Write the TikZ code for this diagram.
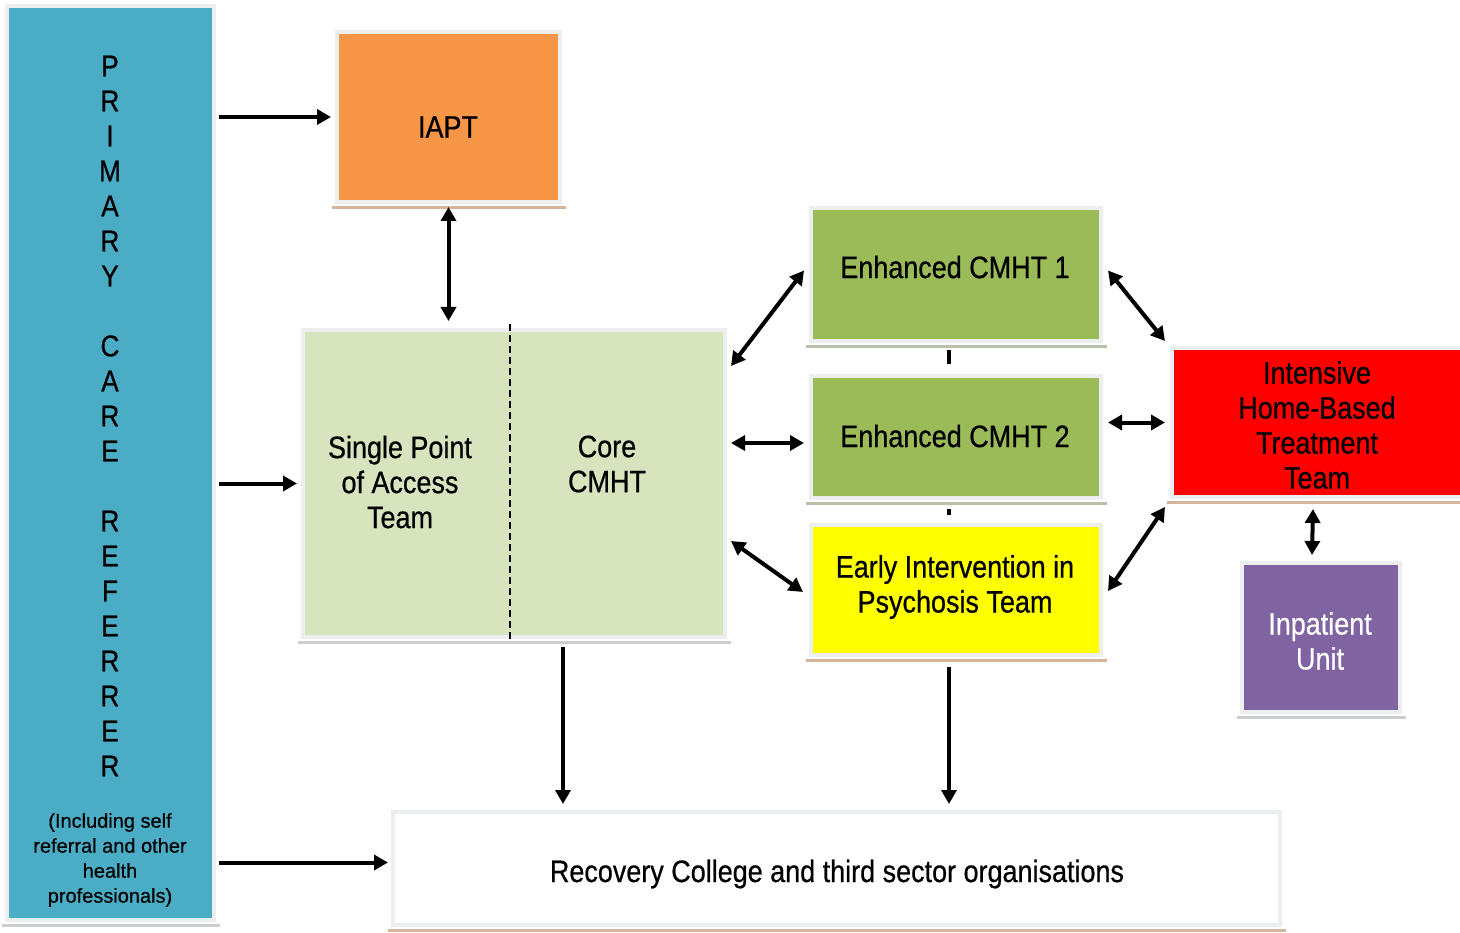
\documentclass[tikz,border=0pt]{standalone}
\usepackage{fontspec}
\setmainfont{Liberation Sans}[FakeStretch=0.87,FakeBold=0.6]
\newfontfamily\smallfont{Liberation Sans}[FakeBold=0.5]
\usetikzlibrary{arrows.meta,calc}
\definecolor{cblue}{HTML}{4BACC6}
\definecolor{corange}{HTML}{F79646}
\definecolor{clgreen}{HTML}{D7E4BD}
\definecolor{cgreen}{HTML}{9BBB59}
\definecolor{cyellow}{HTML}{FFFF00}
\definecolor{cred}{HTML}{FF0000}
\definecolor{cpurple}{HTML}{8064A2}
\definecolor{cframe}{HTML}{EDEEEF}
\definecolor{cbrown}{HTML}{D4B49A}
\definecolor{cgshadow}{HTML}{B9C2A8}
\tikzset{
  box/.style={rectangle, draw=cframe, line width=4pt, inner sep=0pt, align=center,
    font=\fontsize{31}{35}\selectfont},
  arr/.style={line width=4pt, -{Triangle[length=14pt,width=15pt]}},
  darr/.style={line width=4pt, {Triangle[length=14pt,width=15pt]}-{Triangle[length=14pt,width=15pt]}},
  tick/.style={line width=4pt},
  shadowline/.style={line width=3.5pt},
}
\begin{document}
\begin{tikzpicture}[x=1pt,y=-1pt]
\useasboundingbox (0,0) rectangle (1460,933);
% nodes
\node[box, fill=cblue, minimum width=207pt, minimum height=914pt] (blue) at (110.5,463) {};
\node[align=center, font=\fontsize{30}{35}\selectfont] (primary) at (110,416)
  {P\\R\\I\\M\\A\\R\\Y\\~\\C\\A\\R\\E\\~\\R\\E\\F\\E\\R\\R\\E\\R};
\node[align=center, font=\smallfont\fontsize{20}{25}\selectfont] (incl) at (110,860)
  {(Including self\\referral and other\\health\\professionals)};
\node[box, fill=corange, minimum width=223pt, minimum height=170pt] (iapt) at (448.5,117) {};
\node[font=\fontsize{31}{35}\selectfont] (iaptt) at (448,127) {IAPT};
\node[box, fill=clgreen, minimum width=422pt, minimum height=307pt] (spa) at (514,483.5) {};
\node[align=center, font=\fontsize{31}{35}\selectfont] (spat) at (400,482) {Single Point\\of Access\\Team};
\node[align=center, font=\fontsize{31}{35}\selectfont] (coret) at (607,464) {Core\\CMHT};
\node[box, fill=cgreen, minimum width=290pt, minimum height=133pt] (c1) at (956,274.5) {};
\node[font=\fontsize{31}{35}\selectfont] (c1t) at (955,267) {Enhanced CMHT 1};
\node[box, fill=cgreen, minimum width=290pt, minimum height=122pt] (c2) at (956,437) {};
\node[font=\fontsize{31}{35}\selectfont] (c2t) at (955,436) {Enhanced CMHT 2};
\node[box, fill=cyellow, minimum width=290pt, minimum height=130pt] (eip) at (956,590) {};
\node[align=center, font=\fontsize{31}{35}\selectfont] (eipt) at (955,587) {Early Intervention in\\Psychosis Team};
\node[box, fill=cred, minimum width=292pt, minimum height=149pt] (ih) at (1318,422.5) {};
\node[align=center, font=\fontsize{31}{35}\selectfont] (iht) at (1317,425) {Intensive\\Home-Based\\Treatment\\Team};
\node[box, fill=cpurple, minimum width=158pt, minimum height=149pt] (inp) at (1321,637.5) {};
\node[align=center, text=white, font=\fontsize{31}{35}\selectfont] (inpt) at (1320,641) {Inpatient\\Unit};
\node[box, fill=white, minimum width=887pt, minimum height=113pt] (rec) at (836.5,868.5) {};
\node[font=\fontsize{31}{35}\selectfont] (rect) at (837,874) {Recovery College and third sector organisations};
% bottom shadows
\draw[shadowline, cframe!70!gray] ($(blue.south west)+(-3,3.5)$) -- ($(blue.south east)+(4,3.5)$);
\draw[shadowline, cbrown] ($(iapt.south west)+(-3,3.5)$) -- ($(iapt.south east)+(4,3.5)$);
\draw[shadowline, cframe!70!gray] ($(spa.south west)+(-3,3.5)$) -- ($(spa.south east)+(4,3.5)$);
\draw[shadowline, cgshadow] ($(c1.south west)+(-3,3.5)$) -- ($(c1.south east)+(4,3.5)$);
\draw[shadowline, cgshadow] ($(c2.south west)+(-3,3.5)$) -- ($(c2.south east)+(4,3.5)$);
\draw[shadowline, cbrown] ($(eip.south west)+(-3,3.5)$) -- ($(eip.south east)+(4,3.5)$);
\draw[shadowline, cbrown] ($(ih.south west)+(-3,3.5)$) -- ($(ih.south east)+(4,3.5)$);
\draw[shadowline, cframe!70!gray] ($(inp.south west)+(-3,3.5)$) -- ($(inp.south east)+(4,3.5)$);
\draw[shadowline, cbrown] ($(rec.south west)+(-3,3.5)$) -- ($(rec.south east)+(4,3.5)$);
% dashed divider
\coordinate (dtop) at ($(spa.north west)+(209,-4)$);
\coordinate (dbot) at ($(spa.south west)+(209,3)$);
\draw[line width=1.5pt, dash pattern=on 7pt off 4pt] (dtop) -- (dbot);
% connectors
\draw[arr] ([xshift=3pt]blue.east |- iapt.west) -- ([xshift=-4pt]iapt.west);
\draw[arr] ([xshift=3pt]blue.east |- spa.west) -- ([xshift=-4pt]spa.west);
\coordinate (recin) at ($(rec.west)+(-3,-6)$);
\draw[arr] ([xshift=3pt]blue.east |- recin) -- (recin);
\draw[darr] ($(iapt.south)+(0,3)$) -- ($(iapt.south |- spa.north)+(0,-7)$);
\draw[darr] ($(spa.north east)+(4,38)$) -- ($(c1.west)+(-5,-4)$);
\coordinate (c2in) at ($(c2.west)+(-5,6)$);
\draw[darr] ($(spa.east |- c2in)+(4,0)$) -- (c2in);
\draw[darr] ($(spa.north east)+(4,213)$) -- ($(eip.west)+(-6,2)$);
\draw[darr] ($(c1.east)+(5,-4)$) -- ($(ih.north west)+(-5,-5)$);
\draw[darr] ($(c2.east |- ih.west)+(5,0)$) -- ($(ih.west)+(-5,0)$);
\draw[darr] ($(eip.east)+(5,1)$) -- ($(ih.south west)+(-5,8)$);
\draw[darr] ($(ih.south)+(-5,10)$) -- ($(inp.north)+(-9,-6)$);
\coordinate (spaout) at ($(spa.south)+(49,8)$);
\draw[arr] (spaout) -- ($(spaout |- rec.north)+(0,-6)$);
\coordinate (eipout) at ($(eip.south)+(-7,10)$);
\draw[arr] (eipout) -- ($(eipout |- rec.north)+(0,-6)$);
\draw[tick] ($(c1.south)+(-7,7)$) -- ($(c2.north)+(-7,-10)$);
\draw[tick] ($(c2.south)+(-7,9)$) -- ($(eip.north)+(-7,-8)$);
\end{tikzpicture}
\end{document}
